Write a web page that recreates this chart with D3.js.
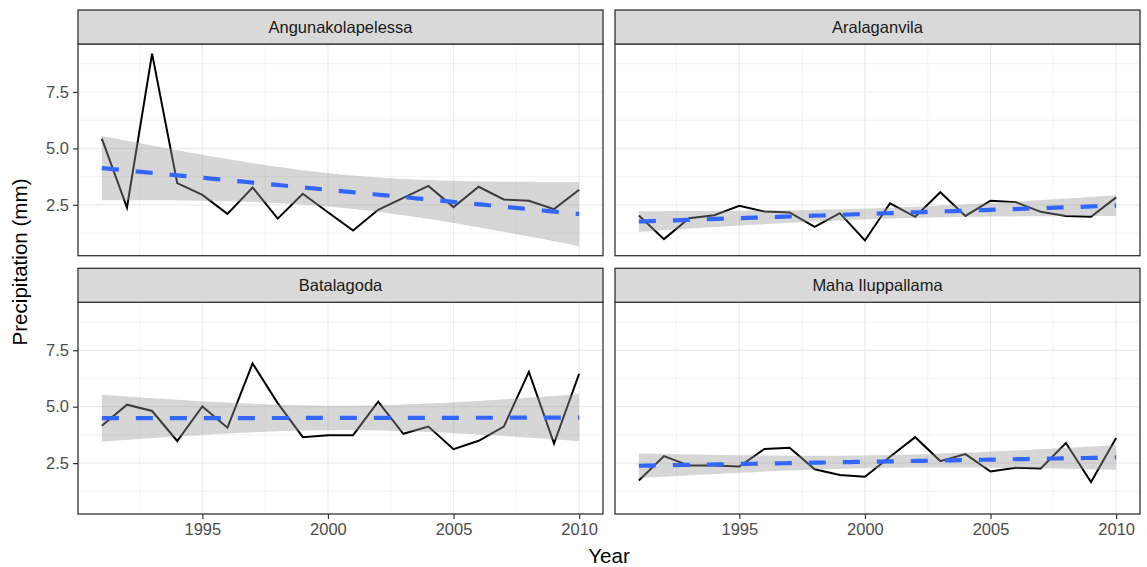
<!DOCTYPE html>
<html>
<head>
<meta charset="utf-8">
<script src="https://cdn.jsdelivr.net/npm/d3@7/dist/d3.min.js"></script>
<style>
  body { margin: 0; background: #ffffff; }
  svg { display: block; font-family: "Liberation Sans", Arial, Helvetica, sans-serif; }
</style>
</head>
<body>
<svg id="chart" width="1147" height="567"></svg>
<script>
// Annual mean precipitation (mm) per station, 1991-2010
const years = [1991, 1992, 1993, 1994, 1995, 1996, 1997, 1998, 1999, 2000,
               2001, 2002, 2003, 2004, 2005, 2006, 2007, 2008, 2009, 2010];

const stations = ["Angunakolapelessa", "Aralaganvila", "Batalagoda", "Maha Iluppallama"];

const angunakolapelessa = [5.43, 2.38, 9.20, 3.46, 2.94, 2.10, 3.27, 1.89, 2.99, 2.17,
                           1.36, 2.28, 2.81, 3.34, 2.40, 3.30, 2.74, 2.68, 2.31, 3.17];
const aralaganvila      = [2.03, 0.98, 1.91, 2.04, 2.46, 2.20, 2.16, 1.52, 2.13, 0.92,
                           2.57, 1.97, 3.06, 2.01, 2.68, 2.62, 2.19, 2.00, 1.97, 2.83];
const batalagoda        = [4.16, 5.09, 4.81, 3.48, 5.01, 4.07, 6.92, 5.16, 3.65, 3.73,
                           3.74, 5.22, 3.80, 4.12, 3.12, 3.49, 4.12, 6.54, 3.37, 6.46];
const mahaIluppallama   = [1.73, 2.81, 2.39, 2.39, 2.35, 3.13, 3.18, 2.23, 1.97, 1.90,
                           2.78, 3.65, 2.59, 2.90, 2.13, 2.30, 2.26, 3.39, 1.66, 3.61];

const seriesValues = [angunakolapelessa, aralaganvila, batalagoda, mahaIluppallama];

const xTickValues = [1995, 2000, 2005, 2010];
const xMinorValues = [1992.5, 1997.5, 2002.5, 2007.5];
const yTickValues = [2.5, 5.0, 7.5];
const yMinorValues = [1.25, 3.75, 6.25, 8.75];

const xTitle = "Year";
const yTitle = "Precipitation (mm)";

// ---- linear fit with 95% confidence band (like geom_smooth(method = "lm")) ----
const T_975_DF18 = 2.100922;
function linearFit(xs, ys) {
  const n = xs.length;
  const xbar = d3.mean(xs), ybar = d3.mean(ys);
  let sxx = 0, sxy = 0;
  for (let i = 0; i < n; i++) {
    sxx += (xs[i] - xbar) ** 2;
    sxy += (xs[i] - xbar) * (ys[i] - ybar);
  }
  const slope = sxy / sxx;
  const intercept = ybar - slope * xbar;
  let sse = 0;
  for (let i = 0; i < n; i++) sse += (ys[i] - (intercept + slope * xs[i])) ** 2;
  const sigma = Math.sqrt(sse / (n - 2));
  const xmin = d3.min(xs), xmax = d3.max(xs);
  const pts = [];
  const steps = 80;
  for (let k = 0; k < steps; k++) {
    const x = xmin + (xmax - xmin) * k / (steps - 1);
    const fit = intercept + slope * x;
    const se = sigma * Math.sqrt(1 / n + (x - xbar) ** 2 / sxx);
    pts.push({ x, fit, lo: fit - T_975_DF18 * se, hi: fit + T_975_DF18 * se });
  }
  return pts;
}

const panels = stations.map((name, i) => {
  const vals = seriesValues[i];
  return {
    name,
    points: years.map((y, j) => ({ year: y, value: vals[j] })),
    smooth: linearFit(years, vals)
  };
});

// ---- layout ----
const svg = d3.select("#chart");
const panelW = 525, panelH = 211.7, stripH = 34;
const colX = [78, 615];
const rowY = [44, 302.3];   // top of each panel (strip sits above)

// shared (fixed) scales, 5% expansion like ggplot
const xExtent = d3.extent(years);
const xPad = (xExtent[1] - xExtent[0]) * 0.05;
const x = d3.scaleLinear().domain([xExtent[0] - xPad, xExtent[1] + xPad]).range([0, panelW]);

let yLo = Infinity, yHi = -Infinity;
panels.forEach(p => {
  p.points.forEach(d => { yLo = Math.min(yLo, d.value); yHi = Math.max(yHi, d.value); });
  p.smooth.forEach(d => { yLo = Math.min(yLo, d.lo); yHi = Math.max(yHi, d.hi); });
});
const yPad = (yHi - yLo) * 0.05;
const y = d3.scaleLinear().domain([yLo - yPad, yHi + yPad]).range([panelH, 0]);

const lineGen = d3.line().x(d => x(d.year)).y(d => y(d.value));
const fitGen = d3.line().x(d => x(d.x)).y(d => y(d.fit));
const bandGen = d3.area().x(d => x(d.x)).y0(d => y(d.lo)).y1(d => y(d.hi));

panels.forEach((p, i) => {
  const col = i % 2, row = Math.floor(i / 2);
  const g = svg.append("g").attr("transform", `translate(${colX[col]},${rowY[row]})`);

  // background
  g.append("rect").attr("width", panelW).attr("height", panelH).attr("fill", "#ffffff");

  // minor grid
  g.selectAll(".xminor").data(xMinorValues).join("line")
    .attr("x1", d => x(d)).attr("x2", d => x(d)).attr("y1", 0).attr("y2", panelH)
    .attr("stroke", "#EBEBEB").attr("stroke-width", 0.6);
  g.selectAll(".yminor").data(yMinorValues).join("line")
    .attr("y1", d => y(d)).attr("y2", d => y(d)).attr("x1", 0).attr("x2", panelW)
    .attr("stroke", "#EBEBEB").attr("stroke-width", 0.6);
  // major grid
  g.selectAll(".xmajor").data(xTickValues).join("line")
    .attr("x1", d => x(d)).attr("x2", d => x(d)).attr("y1", 0).attr("y2", panelH)
    .attr("stroke", "#EBEBEB").attr("stroke-width", 1.2);
  g.selectAll(".ymajor").data(yTickValues).join("line")
    .attr("y1", d => y(d)).attr("y2", d => y(d)).attr("x1", 0).attr("x2", panelW)
    .attr("stroke", "#EBEBEB").attr("stroke-width", 1.2);

  // observed series
  g.append("path").datum(p.points).attr("d", lineGen)
    .attr("fill", "none").attr("stroke", "#000000").attr("stroke-width", 2)
    .attr("stroke-linejoin", "miter");

  // confidence band and fitted trend
  g.append("path").datum(p.smooth).attr("d", bandGen)
    .attr("fill", "#999999").attr("fill-opacity", 0.4);
  g.append("path").datum(p.smooth).attr("d", fitGen)
    .attr("fill", "none").attr("stroke", "#3366FF").attr("stroke-width", 4.2)
    .attr("stroke-dasharray", "17,17");

  // border
  g.append("rect").attr("width", panelW).attr("height", panelH)
    .attr("fill", "none").attr("stroke", "#333333").attr("stroke-width", 1.3);

  // strip
  const s = g.append("g").attr("transform", `translate(0,${-stripH})`);
  s.append("rect").attr("width", panelW).attr("height", stripH)
    .attr("fill", "#D9D9D9").attr("stroke", "#333333").attr("stroke-width", 1.3);
  s.append("text").attr("x", panelW / 2).attr("y", stripH / 2 + 6)
    .attr("text-anchor", "middle").attr("font-size", 16.5).attr("fill", "#1A1A1A")
    .text(p.name);

  // y axis on left column
  if (col === 0) {
    const ay = g.append("g").call(d3.axisLeft(y).tickValues(yTickValues)
      .tickFormat(d3.format(".1f")).tickSize(5).tickPadding(4));
    ay.select(".domain").remove();
    ay.selectAll(".tick line").attr("stroke", "#333333").attr("stroke-width", 1.2);
    ay.selectAll(".tick text").attr("fill", "#4D4D4D").attr("font-size", 16.5)
      .attr("font-family", "Liberation Sans, Arial, sans-serif");
  }
  // x axis on bottom row
  if (row === 1) {
    const ax = g.append("g").attr("transform", `translate(0,${panelH})`)
      .call(d3.axisBottom(x).tickValues(xTickValues).tickFormat(d3.format("d"))
        .tickSize(5).tickPadding(4));
    ax.select(".domain").remove();
    ax.selectAll(".tick line").attr("stroke", "#333333").attr("stroke-width", 1.2);
    ax.selectAll(".tick text").attr("fill", "#4D4D4D").attr("font-size", 16.5)
      .attr("font-family", "Liberation Sans, Arial, sans-serif");
  }
});

// axis titles
const plotLeft = colX[0], plotRight = colX[1] + panelW;
svg.append("text").attr("x", (plotLeft + plotRight) / 2).attr("y", 562.5)
  .attr("text-anchor", "middle").attr("font-size", 20.6).attr("fill", "#000000")
  .text(xTitle);
const midY = (rowY[0] - stripH + rowY[1] + panelH) / 2;
svg.append("text").attr("transform", `translate(27,${midY}) rotate(-90)`)
  .attr("text-anchor", "middle").attr("font-size", 20.6).attr("fill", "#000000")
  .text(yTitle);
</script>
</body>
</html>
